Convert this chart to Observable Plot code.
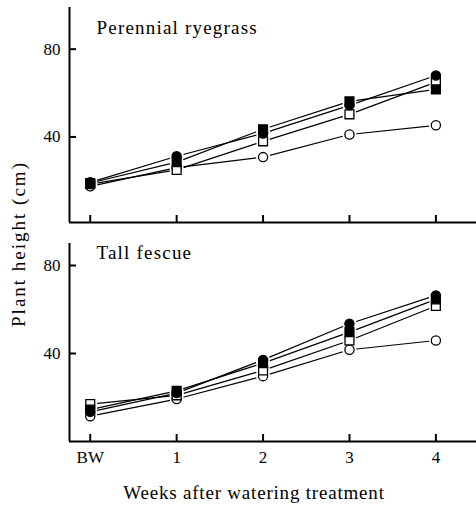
<!DOCTYPE html>
<html>
<head>
<meta charset="utf-8">
<script src="https://cdn.jsdelivr.net/npm/d3@7"></script>
<script src="https://cdn.jsdelivr.net/npm/@observablehq/plot@0.6"></script>
<style>
  html, body { margin: 0; padding: 0; background: #fff; }
  #wrap { position: relative; width: 476px; height: 506px; font-family: "Liberation Serif", "Times New Roman", serif; color: #000; overflow: hidden; }
  .panel { position: absolute; left: 0; }
  #ylab { position: absolute; left: 18px; top: 244px; transform: translate(-50%, -50%) rotate(-90deg); white-space: nowrap; font-size: 19px; letter-spacing: 2px; line-height: 19px; }
  #xlab { position: absolute; left: 254px; top: 483px; transform: translateX(-50%); white-space: nowrap; font-size: 19px; letter-spacing: 0.8px; line-height: 19px; }
</style>
</head>
<body>
<div id="wrap">
  <div id="top" class="panel" style="top:0px"></div>
  <div id="bottom" class="panel" style="top:230px"></div>
  <div id="ylab">Plant height (cm)</div>
  <div id="xlab">Weeks after watering treatment</div>
</div>
<script>
// ---- data ----
const weekLabels = ["BW", "1", "2", "3", "4"];
const weekIndex = [0, 1, 2, 3, 4];
const yTicks = [40, 80];
const panelTitles = ["Perennial ryegrass", "Tall fescue"];
const treatments = ["filled circle", "filled square", "open square", "open circle"];

// Perennial ryegrass (cm)
const ryeFilledCircle = [19.3, 31.2, 41.6, 54.4, 68.0];
const ryeFilledSquare = [19.0, 28.5, 43.5, 56.2, 61.7];
const ryeOpenSquare   = [18.5, 25.0, 38.0, 50.3, 65.0];
const ryeOpenCircle   = [17.5, 26.0, 30.8, 41.1, 45.3];

// Tall fescue (cm)
const fesFilledCircle = [13.5, 22.0, 37.1, 53.5, 66.4];
const fesFilledSquare = [14.5, 23.0, 35.6, 49.7, 64.6];
const fesOpenSquare   = [17.0, 21.0, 32.3, 45.9, 61.6];
const fesOpenCircle   = [11.5, 19.3, 29.7, 41.7, 45.9];

// ---- styles ----
const symbolOf = {"filled circle": "circle", "filled square": "square", "open square": "square", "open circle": "circle"};
const fillOf = {"filled circle": "black", "filled square": "black", "open square": "white", "open circle": "white"};
const xDomain = [-0.24, 4.47];

function toRows(seriesList) {
  return treatments.flatMap((t, j) => seriesList[j].map((v, i) => ({week: weekIndex[i], value: v, treatment: t})));
}

function panel({rows, title, yDomain, height, marginTop, marginBottom, showXLabels, titleDy}) {
  const drawOrder = ["open circle", "open square", "filled square", "filled circle"];
  return Plot.plot({
    width: 476,
    height,
    marginLeft: 69,
    marginRight: 0,
    marginTop,
    marginBottom,
    style: {fontFamily: '"Liberation Serif", "Times New Roman", serif', color: "black", background: "white", overflow: "visible"},
    x: {type: "linear", domain: xDomain, label: null},
    y: {domain: yDomain, label: null},
    marks: [
      Plot.ruleX([xDomain[0]], {stroke: "black", strokeWidth: 2}),
      Plot.ruleY([yDomain[0]], {stroke: "black", strokeWidth: 2}),
      Plot.axisY({ticks: yTicks, tickSize: -7, strokeWidth: 2, fontSize: 17, label: null, tickFormat: d => String(d)}),
      Plot.axisX({ticks: weekIndex, tickSize: -7, strokeWidth: 2, fontSize: 17, label: null,
                  tickFormat: i => showXLabels ? weekLabels[i] : ""}),
      Plot.line(rows, {x: "week", y: "value", z: "treatment", stroke: "black", strokeWidth: 1.2}),
      Plot.dot(rows, {x: "week", y: "value", r: 7, fill: "white", stroke: null}),
      ...drawOrder.map(t => Plot.dot(rows.filter(d => d.treatment === t), {
        x: "week", y: "value",
        symbol: symbolOf[t],
        r: symbolOf[t] === "square" ? 5 : 4.6,
        fill: fillOf[t], stroke: "black", strokeWidth: 1.3
      })),
      Plot.text([title], {frameAnchor: "top-left", dx: 27, dy: titleDy, textAnchor: "start", lineAnchor: "top",
                          fontSize: 19, fill: "black"})
    ]
  });
}

const topPlot = panel({
  rows: toRows([ryeFilledCircle, ryeFilledSquare, ryeOpenSquare, ryeOpenCircle]),
  title: panelTitles[0], yDomain: [1, 99], height: 230, marginTop: 7, marginBottom: 8,
  showXLabels: false, titleDy: 13
});
const bottomPlot = panel({
  rows: toRows([fesFilledCircle, fesFilledSquare, fesOpenSquare, fesOpenCircle]),
  title: panelTitles[1], yDomain: [0, 90], height: 240, marginTop: 13, marginBottom: 29,
  showXLabels: true, titleDy: 2
});
document.getElementById("top").appendChild(topPlot);
document.getElementById("bottom").appendChild(bottomPlot);
document.querySelectorAll("#wrap svg text").forEach(t => {
  if (t.closest("g[aria-label='text']")) t.style.letterSpacing = "1.2px";
});
</script>
</body>
</html>
